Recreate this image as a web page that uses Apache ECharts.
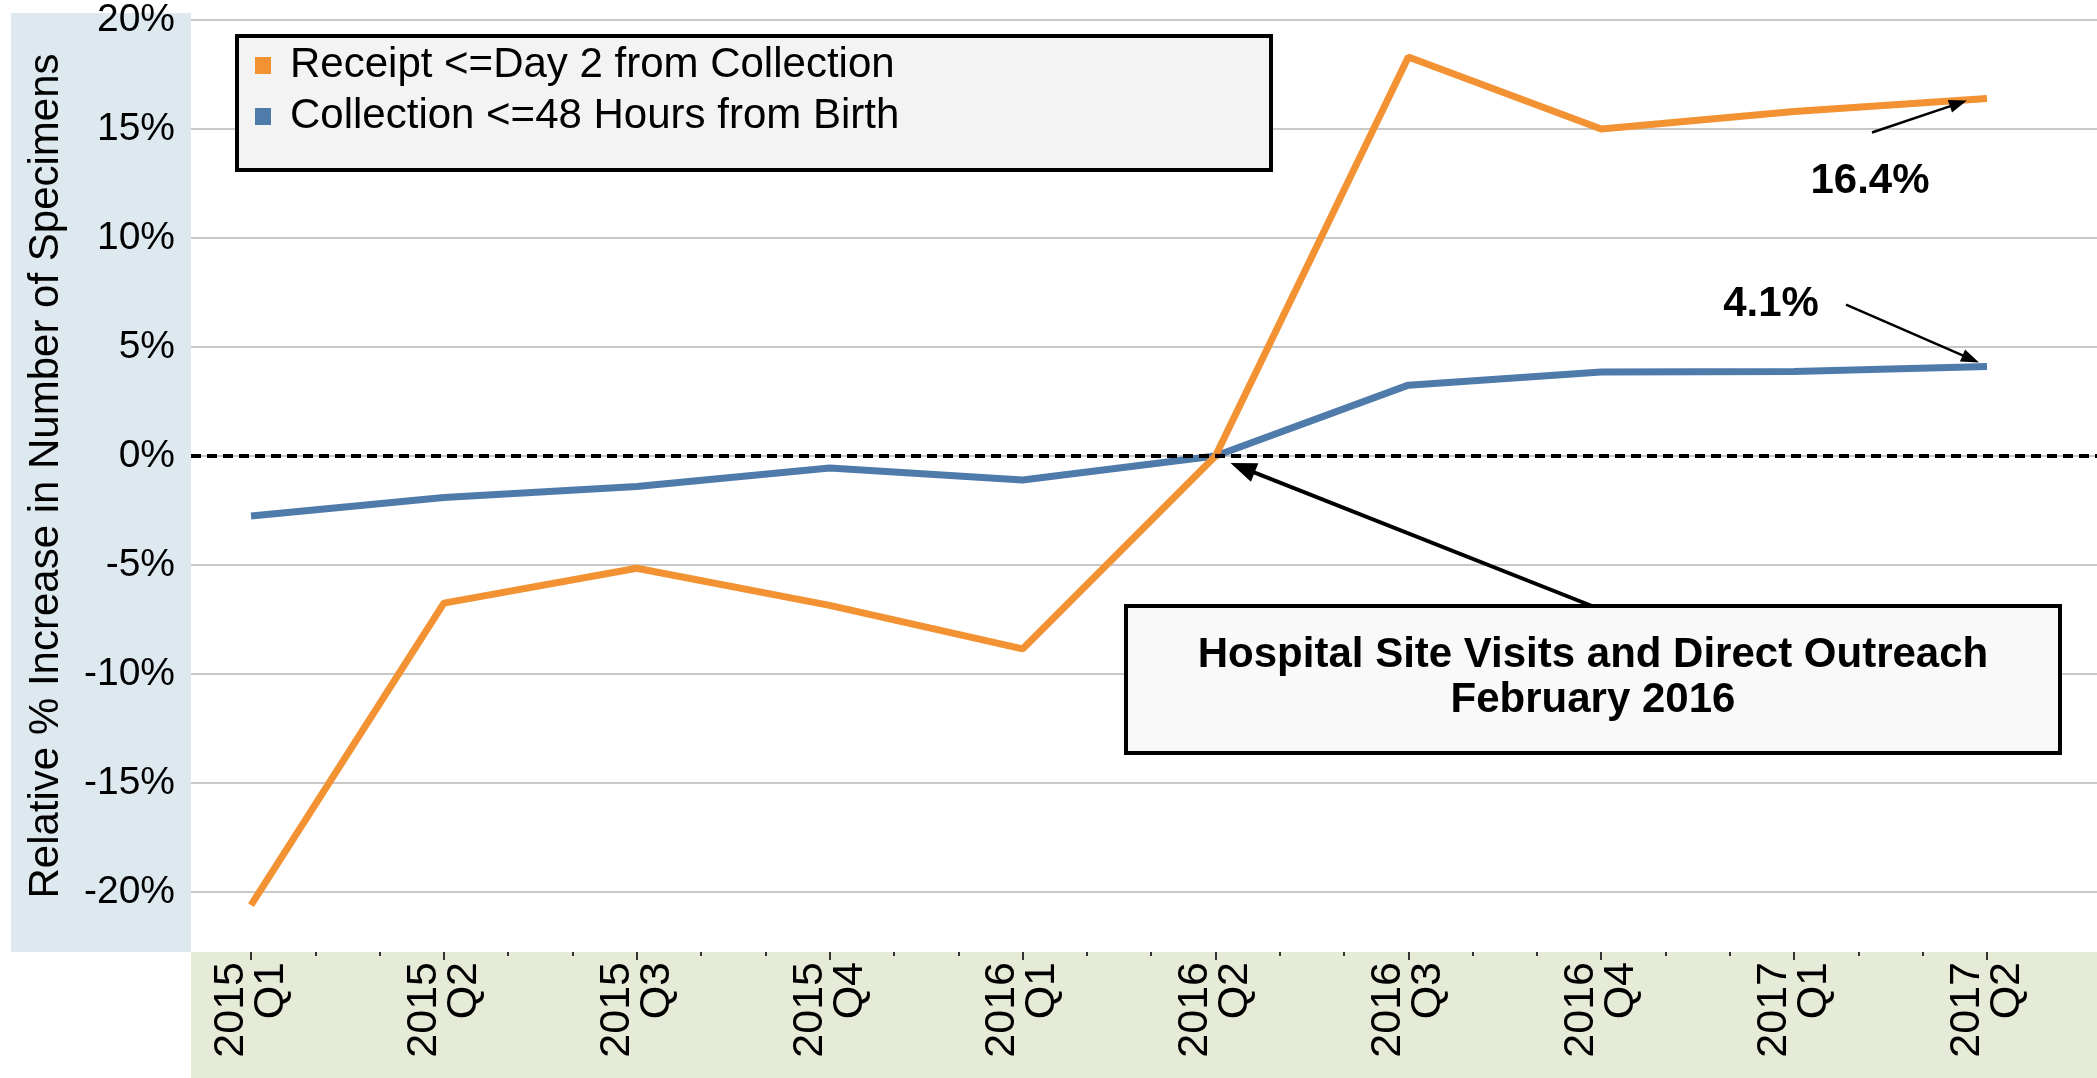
<!DOCTYPE html>
<html>
<head>
<meta charset="utf-8">
<script src="https://cdn.jsdelivr.net/npm/echarts@6/dist/echarts.min.js"></script>
<style>
  html, body { margin: 0; padding: 0; background: #fff; }
  #chart { width: 2097px; height: 1078px; }
</style>
</head>
<body>
<div id="chart"></div>
<script>
// quarters on the x axis
const quarters = ["2015\nQ1", "2015\nQ2", "2015\nQ3", "2015\nQ4", "2016\nQ1",
                  "2016\nQ2", "2016\nQ3", "2016\nQ4", "2017\nQ1", "2017\nQ2"];
// relative % increase
const receiptDay2 = [-20.6, -6.75, -5.15, -6.85, -8.85, 0, 18.3, 15.0, 15.8, 16.4];
const collection48h = [-2.75, -1.9, -1.4, -0.55, -1.1, 0, 3.25, 3.85, 3.88, 4.1];
const receiptName = "Receipt <=Day 2 from Collection";
const collectionName = "Collection <=48 Hours from Birth";

const FONT = "'Liberation Sans', Arial, sans-serif";
const ORANGE = "#f39232";
const BLUE = "#4f7bab";

const chart = echarts.init(document.getElementById("chart"));

const toPoints = (arr) => arr.map((v, i) => [i, v]);

const option = {
  animation: false,
  backgroundColor: "#fff",
  textStyle: { fontFamily: FONT },
  grid: [
    { left: 191, right: 0, top: 20, bottom: 186 },
    { left: 251, right: 110, top: 20, bottom: 186 },
  ],
  legend: {
    orient: "vertical",
    left: 250,
    top: 39,
    z: 10,
    icon: "rect",
    itemWidth: 16,
    itemHeight: 17,
    itemGap: 8,
    selectedMode: false,
    data: [receiptName, collectionName],
    textStyle: { fontSize: 42, lineHeight: 43, color: "#000", fontFamily: FONT, padding: [0, 0, 0, 14] },
  },
  xAxis: [
    { gridIndex: 0, type: "value", min: 0, max: 1, show: false },
    {
      gridIndex: 1,
      type: "value",
      min: 0,
      max: 9,
      interval: 1,
      offset: 60,
      axisLine: { show: false, onZero: false },
      splitLine: { show: false },
      axisTick: { show: true, length: 8, lineStyle: { color: "#333", width: 2 } },
      minorTick: { show: true, splitNumber: 3, length: 4, lineStyle: { color: "#333", width: 2 } },
      axisLabel: {
        rotate: 90,
        margin: 10,
        fontSize: 43,
        lineHeight: 40,
        color: "#000",
        formatter: (v) => quarters[v] || "",
      },
    },
  ],
  yAxis: [
    {
      gridIndex: 0,
      type: "value",
      min: -20,
      max: 20,
      interval: 5,
      axisLine: { show: false },
      axisTick: { show: false },
      splitLine: { lineStyle: { color: "#c8c8c8", width: 2 } },
      axisLabel: { formatter: "{value}%", fontSize: 39, color: "#000", margin: 16 },
      name: "Relative % Increase in Number of Specimens",
      nameLocation: "middle",
      nameGap: 124,
      nameTextStyle: { fontSize: 42, color: "#000", padding: [0, 40, 0, 0] },
    },
    { gridIndex: 1, type: "value", min: -20, max: 20, show: false },
  ],
  series: [
    {
      name: "zero",
      type: "line",
      xAxisIndex: 0,
      yAxisIndex: 0,
      data: [],
      markLine: {
        silent: true,
        symbol: "none",
        label: { show: false },
        lineStyle: { color: "#000", type: [10, 6], width: 4 },
        data: [{ yAxis: 0 }],
      },
    },
    {
      name: collectionName,
      type: "line",
      xAxisIndex: 1,
      yAxisIndex: 1,
      data: toPoints(collection48h),
      symbol: "none",
      clip: false,
      itemStyle: { color: BLUE },
      lineStyle: { color: BLUE, width: 7 },
    },
    {
      name: receiptName,
      type: "line",
      xAxisIndex: 1,
      yAxisIndex: 1,
      data: toPoints(receiptDay2),
      symbol: "none",
      clip: false,
      itemStyle: { color: ORANGE },
      lineStyle: { color: ORANGE, width: 7 },
    },
  ],
};

chart.setOption(option);

// arrow = shaft + triangular head
function arrow(from, to, width, headLen, headW) {
  const dx = to[0] - from[0], dy = to[1] - from[1];
  const len = Math.hypot(dx, dy);
  const ux = dx / len, uy = dy / len;
  const bx = to[0] - ux * headLen, by = to[1] - uy * headLen;
  const px = -uy * headW / 2, py = ux * headW / 2;
  return [
    { type: "line", z: 20, shape: { x1: from[0], y1: from[1], x2: bx + ux * 2, y2: by + uy * 2 },
      style: { stroke: "#000", lineWidth: width } },
    { type: "polygon", z: 20, shape: { points: [to, [bx + px, by + py], [bx - px, by - py]] },
      style: { fill: "#000" } },
  ];
}

const last = quarters.length - 1;
const pOrange = chart.convertToPixel({ seriesIndex: 2 }, [last, receiptDay2[last]]);
const pBlue = chart.convertToPixel({ seriesIndex: 1 }, [last, collection48h[last]]);
const pZero = chart.convertToPixel({ seriesIndex: 2 }, [5, receiptDay2[5]]);

const graphics = [
  // y-axis panel
  { type: "rect", z: -1, shape: { x: 11, y: 13, width: 180, height: 939 }, style: { fill: "#dde9ef" } },
  // x-axis panel
  { type: "rect", z: -1, shape: { x: 191, y: 952, width: 1906, height: 126 }, style: { fill: "#e6ebd8" } },
  // legend box
  { type: "rect", z: 5, shape: { x: 237, y: 36, width: 1034, height: 134 },
    style: { fill: "#f3f3f3", stroke: "#000", lineWidth: 4 } },
  // annotation box
  { type: "rect", z: 15, shape: { x: 1126, y: 606, width: 934, height: 147 },
    style: { fill: "#f9f9f9", stroke: "#000", lineWidth: 4 } },
  { type: "text", z: 16, style: {
      x: 1593, y: 678, text: "Hospital Site Visits and Direct Outreach\nFebruary 2016",
      fontSize: 42, fontWeight: "bold", lineHeight: 45, fontFamily: FONT,
      fill: "#000", textAlign: "center", textVerticalAlign: "middle" } },
  { type: "text", z: 16, style: {
      x: pOrange[0] - 117, y: pOrange[1] + 83, text: "16.4%", fontSize: 42, fontWeight: "bold",
      fontFamily: FONT, fill: "#000", textAlign: "center", textVerticalAlign: "middle" } },
  { type: "text", z: 16, style: {
      x: pBlue[0] - 216, y: pBlue[1] - 62, text: "4.1%", fontSize: 42, fontWeight: "bold",
      fontFamily: FONT, fill: "#000", textAlign: "center", textVerticalAlign: "middle" } },
]
  .concat(arrow([1592, 606], [pZero[0] + 15, pZero[1] + 7], 4, 26, 20))
  .concat(arrow([pOrange[0] - 115, pOrange[1] + 34], [pOrange[0] - 20, pOrange[1] + 2], 2.5, 18, 13))
  .concat(arrow([pBlue[0] - 141, pBlue[1] - 62], [pBlue[0] - 8, pBlue[1] - 4], 2.5, 18, 13));

chart.setOption({ graphic: graphics });
</script>
</body>
</html>
